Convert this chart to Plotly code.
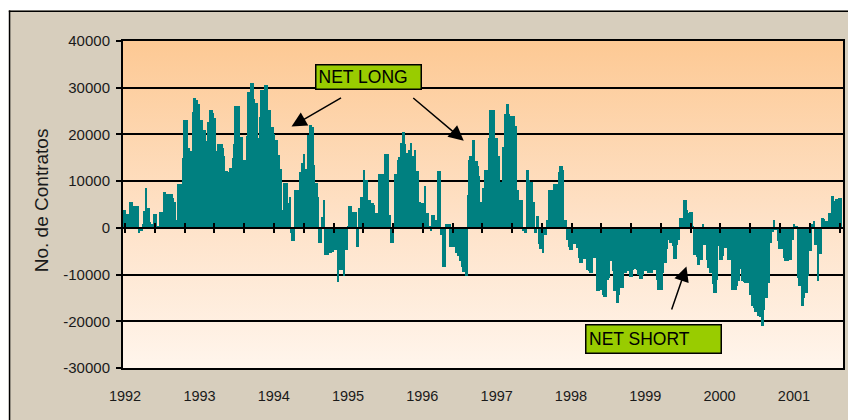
import base64
import pandas as pd
import plotly.graph_objects as go

# ---------------- data (weekly net position, contracts) ----------------
start_week = "1991-12-31"
net_position = [
    3900, 3000, 3000, 2000, 5500, 5500, 4700, 4600, 4600, 4600,
    -1100, -700, -700, 900, 3700, 8500, 4300, 4300, 1300, 900,
    300, 2900, 2900, 300, 300, 3400, 3400, 3400, 7700, 7300,
    7300, 7300, 7300, 7300, 6400, 5500, 1600, 1600, 9400, 9400,
    9400, 14900, 23100, 23100, 23100, 17100, 16500, 16500, 24700, 27800,
    27300, 27300, 26600, 23100, 23100, 21000, 21000, 18700, 18700, 22600,
    25300, 25300, 24600, 23500, 16400, 16400, 18000, 18000, 18000, 17100,
    15400, 12100, 12100, 11900, 12800, 12800, 14900, 18000, 26100, 26100,
    26100, 19500, 19500, 14600, 14600, 14600, 19600, 29000, 29000, 31100,
    31100, 27600, 26700, 26700, 19200, 23800, 29500, 29500, 29500, 30600,
    30600, 25300, 25300, 21600, 21600, 20000, 18900, 18900, 15600, 12600,
    12600, 3900, 9500, 9500, 9500, 5300, 6600, -1100, -2900, -2900,
    8000, 8000, 8000, 11900, 11900, 13900, 15900, 12600, 12600, 19800,
    22100, 22100, 21600, 13500, 9500, 9500, 6700, -3300, -3300, 2400,
    6000, -5800, -5800, -5800, -5400, -5400, -5100, -4700, -4700, -4700,
    -11500, -9000, -9000, -9000, -10400, -4700, -4700, 300, 4700, 4700,
    3300, 3300, 3300, -4000, -4000, 4200, 6700, 6700, 12400, 10300,
    10300, 5600, 6000, 5300, 5300, 4900, 3100, 3100, 3100, 11600,
    11600, 11600, 8900, 15900, 15900, 15900, 2800, -3300, -3300, 300,
    11600, 11600, 14600, 15100, 18100, 18100, 20500, 18000, 16000, 16000,
    16700, 18100, 15300, 15300, 16700, 12100, 12100, 5600, 4900, 5300,
    5300, 9000, 3100, 3100, 300, -600, 2800, 2800, 1600, 1600,
    12100, 12100, -1500, -1500, -8300, -8300, 900, 900, 900, -4000,
    -3300, -4000, -4000, -5400, -6100, -6100, -7200, -8300, -9400, -9400,
    -10400, 7100, 14600, 15300, 15300, 18900, 14300, 14300, 13300, 11100,
    5500, 5500, 8500, 12400, 12400, 12400, 19200, 25300, 25300, 25300,
    19200, 19200, 15400, 15400, 9800, 9800, 17400, 24400, 24400, 26500,
    24400, 23900, 23900, 23900, 21900, 21900, 8100, 6000, 6000, 6000,
    -600, -1100, -1100, 12400, 10300, 9800, 9800, 5500, -1100, -1100,
    2600, -3500, -4500, -4500, -5400, -1500, -1500, 1700, 8100, 8100,
    8100, 2400, 9400, 9400, 9400, 11900, 13300, 13300, 12400, 1700,
    1700, -2600, -4200, -4700, -4700, -3500, -3500, -3500, -4400, -6400,
    -7600, -7600, -6600, -6600, -6600, -9000, -9200, -9700, -9700, -6400,
    -6400, -6400, -13600, -13600, -13200, -13200, -14300, -14800, -14800, -11100,
    -10700, -7100, -7100, -9300, -13600, -13600, -16100, -14300, -12900, -12900,
    -12900, -9600, -9600, -9300, -8900, -10500, -10500, -9100, -8900, -8900,
    -9100, -10000, -10900, -10900, -10000, -9300, -9300, -8100, -9600, -9600,
    -9600, -8900, -9100, -9100, -11100, -13400, -13400, -13400, -9600, -7600,
    -7600, -4600, -2500, -3200, -3200, -3900, -6600, -6600, -3600, -2500,
    2100, 2100, 2100, 5900, 5900, 3900, 3200, 3400, 3400, 200,
    -5900, -5900, -6200, -7900, -6800, -6800, 900, -3600, -3600, -6800,
    -8600, -9600, -9600, -12100, -13900, -13900, -11100, -3900, -6800, -6800,
    -6100, -4300, -4300, -4300, -6800, -6800, -6800, -13200, -13200, -13200,
    -12400, -11400, -8800, -8800, -11400, -11600, -11800, -11800, -11800, -14300,
    -14300, -16800, -17100, -18100, -18100, -18900, -19100, -19100, -21100, -17500,
    -15000, -15000, -11800, -3200, -3200, -900, 1600, -400, -400, -2900,
    -4500, -4500, -4500, -6400, -7100, -7100, -7100, -6800, -6800, -2500,
    900, 400, 400, -10700, -12500, -12500, -16800, -15000, -13900, -13900,
    -10400, -5000, -5000, 900, 1400, -3600, -3600, -11400, -5700, -5700,
    2100, 1900, 1400, 1400, 0, 3200, 3200, 6900, 5700, 5700,
    6100, 4800, 6400, 6400,
]
weeks = pd.date_range(start_week, periods=len(net_position), freq="7D")

year_labels = ["1992", "1993", "1994", "1995", "1996", "1997", "1998", "1999", "2000", "2001"]
year_ticks = [f"{y}-01-01" for y in year_labels]
y_ticks = [-30000, -20000, -10000, 0, 10000, 20000, 30000, 40000]
y_labels = [str(v) for v in y_ticks]

# ---------------- styling ----------------
W, H = 848, 420
L, R, T, B = 123, 3, 41, 52
PW, PH = W - L - R, H - T - B
DAY_MS = 86400000


def px_x(p):
    return (p - L) / PW


def px_y(p):
    return (H - B - p) / PH


x_range = ["1991-12-22", "2001-08-30"]
zero_pos = px_y(228)

grad_svg = (
    '<svg xmlns="http://www.w3.org/2000/svg" viewBox="0 0 10 100" '
    'preserveAspectRatio="none" width="10" height="100">'
    '<defs><linearGradient id="g" x1="0" y1="0" x2="0" y2="1">'
    '<stop offset="0" stop-color="#fdc994"/>'
    '<stop offset="0.55" stop-color="#fee2c8"/>'
    '<stop offset="1" stop-color="#fff5ec"/>'
    '</linearGradient></defs>'
    '<rect x="0" y="0" width="10" height="100" fill="url(#g)"/></svg>'
)
grad_src = "data:image/svg+xml;base64," + base64.b64encode(grad_svg.encode()).decode()

fig = go.Figure()
fig.add_trace(go.Bar(
    x=weeks, y=net_position,
    width=9.5 * DAY_MS,
    marker=dict(color="#008080", line=dict(width=0)),
    hoverinfo="x+y",
))
# helper (invisible) traces so the cross-tick axes are drawn
for ax in ("x2", "x3"):
    fig.add_trace(go.Scatter(
        x=weeks[:1], y=net_position[:1], mode="markers",
        marker=dict(opacity=0), hoverinfo="skip", xaxis=ax, yaxis="y",
    ))

tick_axis = dict(
    overlaying="x", anchor="free", position=zero_pos, type="date",
    range=x_range, tick0="1992-05-27", dtick=146.3 * DAY_MS,
    ticklen=4, tickwidth=1.5, tickcolor="black",
    showticklabels=False, showgrid=False, zeroline=False,
    showline=True, linecolor="black", linewidth=1.8,
)

fig.update_layout(
    width=W, height=H,
    margin=dict(l=L, r=R, t=T, b=B, pad=0),
    paper_bgcolor="#d7cebd",
    plot_bgcolor="rgba(0,0,0,0)",
    bargap=0,
    showlegend=False,
    font=dict(family="Arial", size=14.5, color="#1a1a1a"),
    xaxis=dict(
        type="date", range=x_range,
        tickvals=year_ticks, ticktext=year_labels,
        ticks="", showgrid=False, zeroline=False,
        showline=True, linecolor="black", linewidth=2, mirror=True,
        ticklabelstandoff=14,
    ),
    xaxis2=dict(tick_axis, ticks="outside"),
    xaxis3=dict(tick_axis, ticks="inside"),
    yaxis=dict(
        range=[-30000, 40000], tickvals=y_ticks, ticktext=y_labels,
        ticks="outside", ticklen=5, tickwidth=1.5, tickcolor="black",
        showgrid=True, gridcolor="black", gridwidth=1.6, zeroline=False,
        showline=True, linecolor="black", linewidth=2, mirror=True,
        ticklabelstandoff=3, tickfont=dict(size=15),
    ),
    images=[dict(
        source=grad_src, xref="paper", yref="paper", x=0, y=1,
        sizex=1, sizey=1, sizing="stretch", xanchor="left", yanchor="top",
        layer="below",
    )],
    shapes=[
        dict(type="rect", xref="paper", yref="paper",
             x0=px_x(-5), x1=px_x(W + 5), y0=px_y(10.5), y1=px_y(-5),
             fillcolor="white", line=dict(width=0), layer="below"),
        dict(type="rect", xref="paper", yref="paper",
             x0=px_x(-5), x1=px_x(8.5), y0=px_y(H + 5), y1=px_y(-5),
             fillcolor="white", line=dict(width=0), layer="below"),
        dict(type="line", xref="paper", yref="paper",
             x0=px_x(9.25), x1=px_x(9.25), y0=px_y(10.5), y1=px_y(H + 5),
             line=dict(color="black", width=1.5)),
        dict(type="line", xref="paper", yref="paper",
             x0=px_x(8.5), x1=px_x(W + 5), y0=px_y(11.25), y1=px_y(11.25),
             line=dict(color="black", width=1.5)),
    ],
)

arrow_style = dict(showarrow=True, arrowhead=2, arrowsize=2, arrowwidth=1.5,
                   arrowcolor="black", standoff=0, text="",
                   xref="paper", yref="paper", axref="pixel", ayref="pixel")
annotations = [
    dict(text="No. de Contratos", textangle=-90, xref="paper", yref="paper",
         x=px_x(41), y=px_y(200), xanchor="center", yanchor="middle",
         showarrow=False, font=dict(size=19, color="#1a1a1a")),
    dict(text="NET LONG", xref="paper", yref="paper",
         x=px_x(316), y=px_y(64), xanchor="left", yanchor="top",
         width=100, height=19, align="left", valign="middle",
         bgcolor="#99cc00", bordercolor="black", borderwidth=1.5, borderpad=2,
         showarrow=False, font=dict(size=17.5, color="black")),
    dict(text="NET SHORT", xref="paper", yref="paper",
         x=px_x(586), y=px_y(324), xanchor="left", yanchor="top",
         width=129, height=22, align="left", valign="middle",
         bgcolor="#99cc00", bordercolor="black", borderwidth=1.5, borderpad=2.5,
         showarrow=False, font=dict(size=17.5, color="black")),
    dict(arrow_style, x=px_x(292), y=px_y(126.5), ax=51, ay=-29.5),
    dict(arrow_style, x=px_x(464.7), y=px_y(140.7), ax=-52, ay=-44),
    dict(arrow_style, x=px_x(688), y=px_y(266.5), ax=-15.3, ay=44.5),
]
fig.update_layout(annotations=annotations)

fig.write_html("out.html")
